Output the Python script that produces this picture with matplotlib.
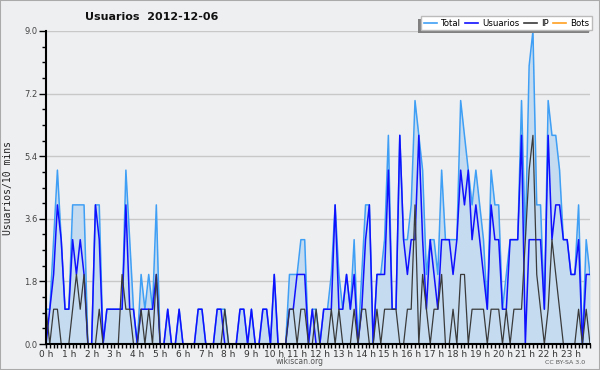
import numpy as np
import matplotlib
matplotlib.use("Agg")
import matplotlib.pyplot as plt
from matplotlib.patches import Rectangle
from matplotlib.lines import Line2D
from matplotlib.transforms import IdentityTransform
from matplotlib.ticker import MultipleLocator

# -------------------------------------------------
# DATA (one value per 10 minutes, 0 h .. 23 h 50)
# -------------------------------------------------

title = "Usuarios  2012-12-06"
ylabel = "Usuarios/10 mins"
hour_labels = [str(h) + " h" for h in range(24)]
y_ticks = [0.0, 1.8, 3.6, 5.4, 7.2, 9.0]
series_names = ["Total", "Usuarios", "IP", "Bots"]

total = [1, 1, 3, 5, 3, 1, 1, 4, 4, 4, 4, 0, 0, 4, 4, 0, 1, 1, 1, 1,
         1, 5, 3, 1, 0, 2, 1, 2, 1, 4, 0, 0, 1, 0, 0, 1, 0, 0, 0, 0,
         1, 1, 0, 0, 0, 1, 1, 1, 0, 0, 0, 1, 1, 0, 1, 0, 0, 1, 1, 0,
         2, 0, 0, 0, 2, 2, 2, 3, 3, 0, 1, 1, 0, 1, 1, 2, 4, 2, 1, 2,
         1, 3, 0, 2, 4, 4, 0, 2, 2, 3, 6, 1, 1, 6, 3, 3, 4, 7, 6, 5,
         2, 3, 3, 2, 5, 3, 3, 3, 3, 7, 6, 5, 4, 5, 4, 3, 1, 5, 4, 4,
         1, 2, 3, 3, 3, 7, 3, 8, 9, 4, 4, 1, 7, 6, 6, 5, 3, 3, 2, 2,
         4, 0, 3, 2]

usuarios = [0, 1, 2, 4, 3, 1, 1, 3, 2, 3, 2, 0, 0, 4, 3, 0, 1, 1, 1, 1,
            1, 4, 1, 1, 0, 1, 1, 1, 1, 2, 0, 0, 1, 0, 0, 1, 0, 0, 0, 0,
            1, 1, 0, 0, 0, 1, 1, 0, 0, 0, 0, 1, 1, 0, 1, 0, 0, 1, 1, 0,
            2, 0, 0, 0, 1, 1, 2, 2, 2, 0, 1, 0, 0, 1, 1, 1, 4, 1, 1, 2,
            1, 2, 0, 1, 3, 4, 0, 2, 2, 2, 5, 1, 1, 6, 3, 2, 3, 3, 6, 3,
            1, 3, 2, 1, 3, 3, 3, 2, 3, 5, 4, 5, 3, 4, 3, 2, 1, 4, 3, 3,
            1, 1, 3, 3, 3, 6, 0, 3, 3, 3, 3, 1, 6, 3, 4, 4, 3, 3, 2, 2,
            3, 0, 2, 2]

ip = [1, 0, 1, 1, 0, 0, 0, 1, 2, 1, 2, 0, 0, 0, 1, 0, 0, 0, 0, 0,
      2, 1, 1, 0, 0, 1, 0, 1, 0, 2, 0, 0, 0, 0, 0, 0, 0, 0, 0, 0,
      0, 0, 0, 0, 0, 0, 0, 1, 0, 0, 0, 0, 0, 0, 0, 0, 0, 0, 0, 0,
      0, 0, 0, 0, 1, 1, 0, 1, 1, 0, 0, 1, 0, 0, 0, 1, 0, 1, 0, 0,
      0, 1, 0, 1, 1, 0, 0, 1, 0, 1, 1, 1, 1, 0, 0, 1, 1, 4, 0, 2,
      1, 0, 1, 1, 2, 0, 0, 1, 0, 2, 2, 0, 1, 1, 1, 1, 0, 1, 1, 1,
      0, 1, 0, 1, 1, 1, 3, 5, 6, 2, 1, 0, 1, 3, 2, 1, 0, 0, 0, 0,
      1, 0, 1, 0]

bots = [0] * 144

# -------------------------------------------------
# FIGURE
# -------------------------------------------------

bg = "#eeeff1"
c_total = "#3f9ff5"
c_fill = "#c4dbf0"
c_users = "#1010ff"
c_ip = "#3a3a3a"
c_bots = "#ffa020"

x = np.arange(len(total))

fig = plt.figure(figsize=(6, 3.7), dpi=100, facecolor=bg)
fig.patches.append(Rectangle((0, 0), 1, 1, transform=fig.transFigure,
                             fill=False, edgecolor="#aaaaaa", lw=1.5))

ax = fig.add_axes([46 / 600, 26 / 370, 544 / 600, 313 / 370])
ax.set_facecolor(bg)

ax.fill_between(x, total, color=c_fill, lw=0, zorder=1)
ax.plot(x, bots, color=c_bots, lw=1.0, zorder=2)
ax.plot(x, total, color=c_total, lw=1.1, zorder=3)
ax.plot(x, usuarios, color=c_users, lw=1.1, zorder=4)
ax.plot(x, ip, color=c_ip, lw=0.9, zorder=5)

ax.set_xlim(0, len(total) - 1)
ax.set_ylim(0, 9)

ax.set_yticks(y_ticks)
ax.set_yticklabels(["%.1f" % v for v in y_ticks])
ax.yaxis.set_minor_locator(MultipleLocator(0.45))
ax.set_xticks(range(0, 144, 6))
ax.set_xticklabels(hour_labels)
ax.xaxis.set_minor_locator(MultipleLocator(1))

ax.grid(axis="y", which="major", color="#c8c8c8", lw=1)
ax.set_axisbelow(True)

for side in ["top", "right"]:
    ax.spines[side].set_visible(False)
for side in ["left", "bottom"]:
    ax.spines[side].set_linewidth(1.5)
    ax.spines[side].set_zorder(6)

ax.tick_params(axis="y", which="major", length=5, width=1, labelsize=6,
               labelcolor="#444444", pad=1)
ax.tick_params(axis="y", which="minor", length=3, width=1)
ax.tick_params(axis="x", which="both", length=3, width=1, labelsize=6.5,
               labelcolor="#333333", pad=1)

fig.text(8 / 600, 1 - 188 / 370, ylabel, rotation=90, ha="center",
         va="center", fontsize=7, family="DejaVu Sans Mono", color="#222222")
fig.text(85 / 600, 1 - 17 / 370, title, ha="left", va="center",
         fontsize=8, fontweight="bold", color="#111111")
fig.text(300 / 600, 1 - 362 / 370, "wikiscan.org", ha="center",
         va="center", fontsize=5.5, color="#555555")
fig.text(565 / 600, 1 - 362 / 370, "CC BY-SA 3.0", ha="center",
         va="center", fontsize=4.5, color="#555555")

handles = [Line2D([], [], color=c, lw=1.2)
           for c in [c_total, c_users, c_ip, c_bots]]
leg = ax.legend(handles, series_names, ncol=4, loc="upper right",
                bbox_to_anchor=(592 / 600, 1 - 16 / 370),
                bbox_transform=fig.transFigure, fontsize=6.2,
                frameon=True, fancybox=False, edgecolor="#bbbbbb",
                framealpha=1, handlelength=1.5, handletextpad=0.5,
                columnspacing=0.5, borderpad=0.3, borderaxespad=0)
leg.set_zorder(10)

# shadow of the legend box, down and to the left
fig.canvas.draw()
bb = leg.get_window_extent()
shadow = Rectangle((bb.x0 - 3, bb.y0 - 3), bb.width, bb.height,
                   transform=IdentityTransform(), facecolor="#808080",
                   edgecolor="none", zorder=9, clip_on=False)
ax.add_artist(shadow)

fig.savefig("out.png", dpi=100, facecolor=bg)
